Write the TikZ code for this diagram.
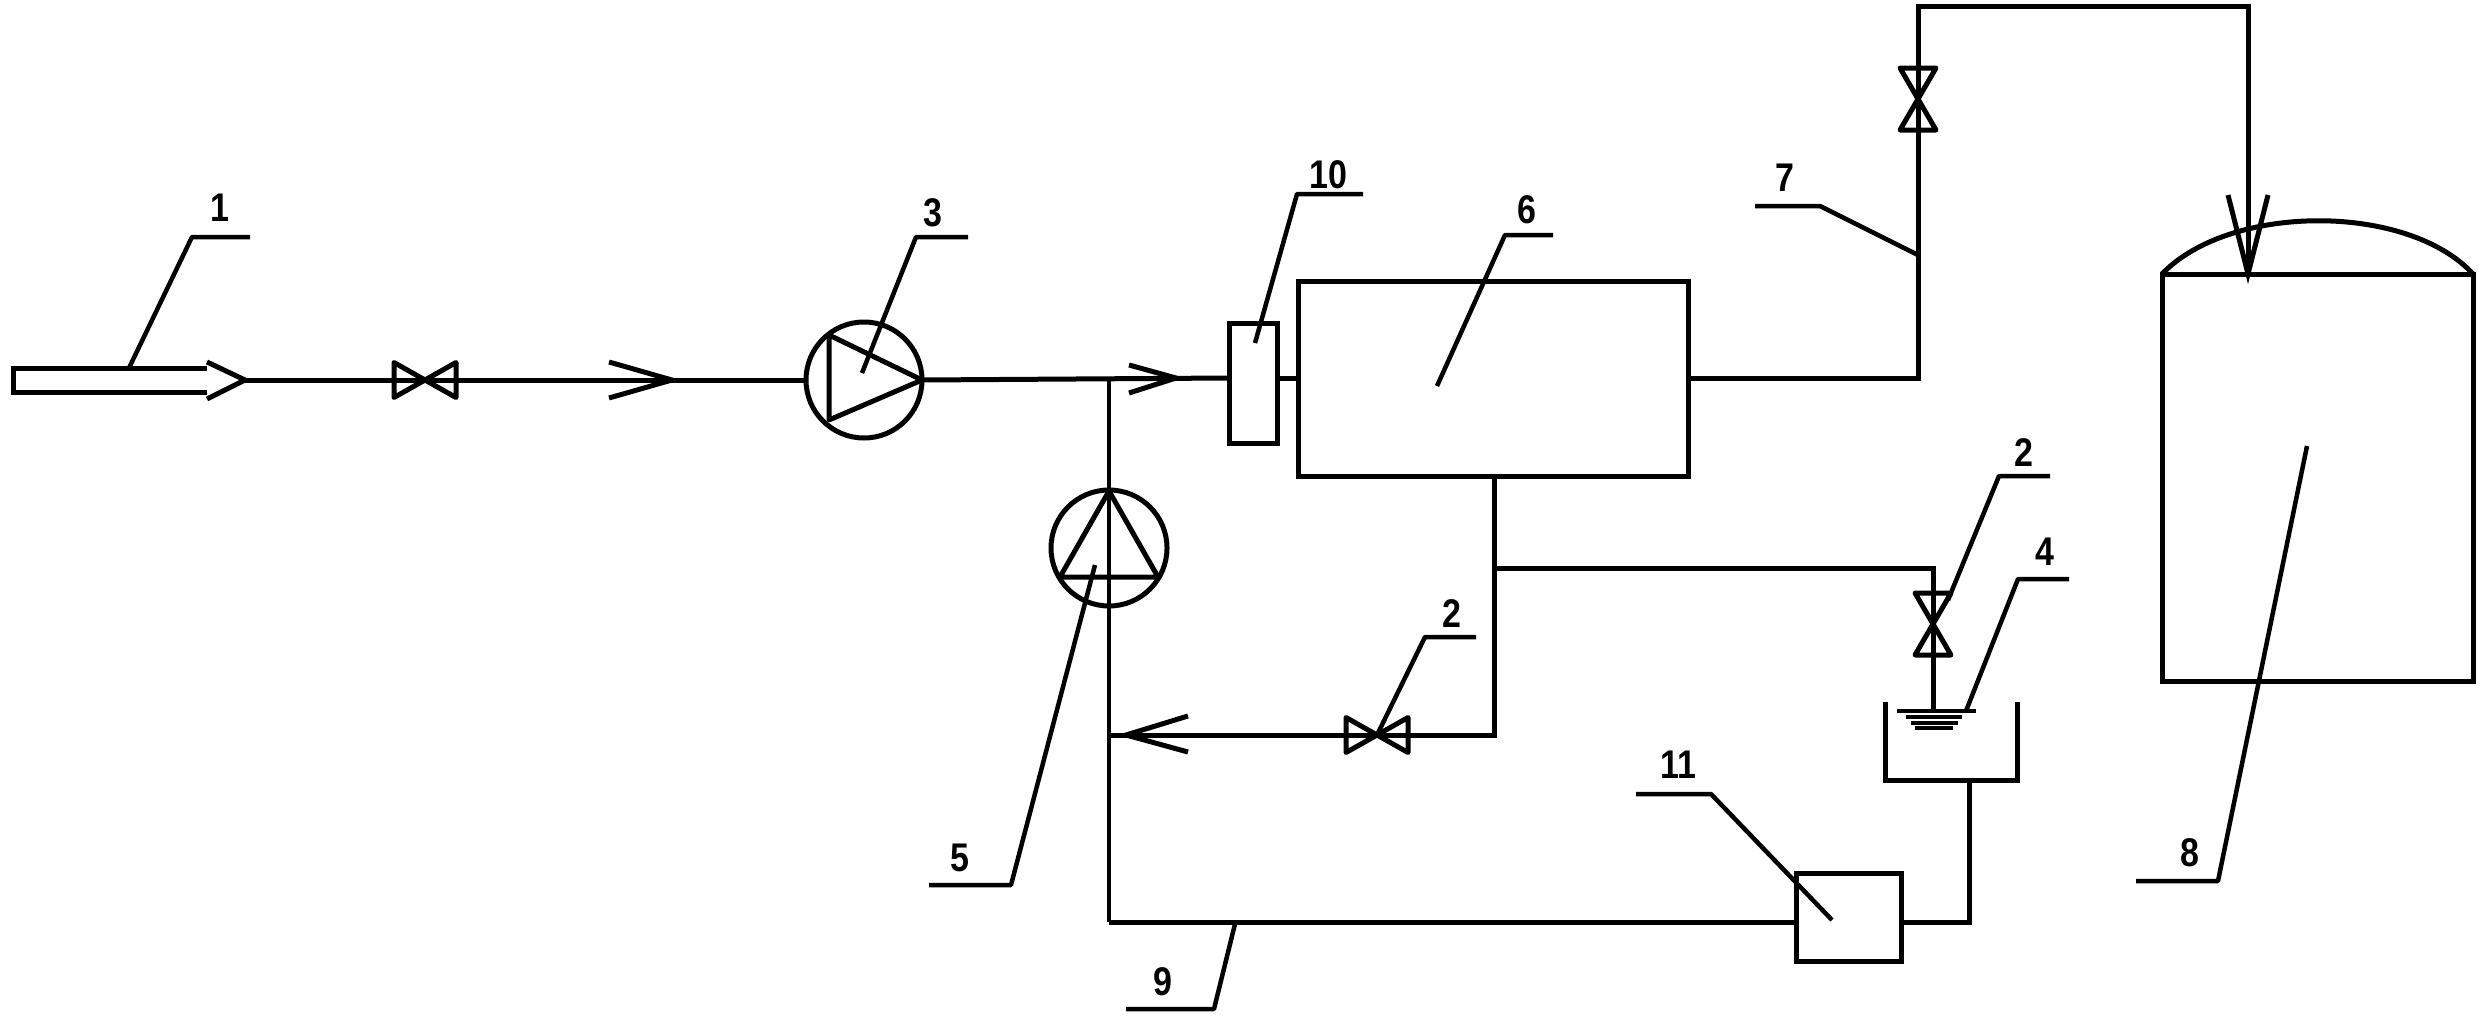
\documentclass[tikz,border=0pt]{standalone}
\usepackage{fontspec}
\setmainfont{Liberation Sans}
\begin{document}
\begin{tikzpicture}[x=1pt,y=-1pt,
  ln/.style={line width=5pt,black,line cap=butt,line join=miter},
  lead/.style={line width=4.5pt,black,line join=round},
  boxn/.style={draw,ln,rectangle,inner sep=0pt,outer sep=0pt},
  pump/.style={draw,ln,circle,inner sep=0pt,outer sep=0pt,minimum size=116pt},
  num/.style={font=\fontsize{40}{42}\selectfont\bfseries,inner sep=0pt,xscale=.85,black},
  hvalve/.pic={\draw[ln,line join=round] (-31,-17.5) -- (31,17.5) -- (31,-17.5) -- (-31,17.5) -- cycle;},
  vvalve/.pic={\draw[ln,line join=round] (-18,-31) -- (18,31) -- (-18,31) -- (18,-31) -- cycle;}]
\useasboundingbox[fill=white] (0,0) rectangle (2490,1036);

% equipment
\node[boxn,minimum width=48pt,minimum height=120pt] (b10) at (1253,383) {};
\node[boxn,minimum width=390pt,minimum height=195pt] (b6) at (1493,378.5) {};
\node[boxn,minimum width=105pt,minimum height=88pt] (b11) at (1848.5,917) {};
\node[pump] (p3) at (864,380) {};
\node[pump] (p5) at (1109,548) {};

% coordinates of the piping
\coordinate (inl) at (245,380);
\coordinate (j1) at (1109,378);
\coordinate (j2) at (1109,735);
\coordinate (j3) at (1109,922);
\coordinate (c1) at (1918,378);
\coordinate (c2) at (1918,6);
\coordinate (c3) at (2248,6);
\coordinate (tk) at (2248,274);
\coordinate (d1) at (1494,476);
\coordinate (d2) at (1494,568);
\coordinate (d3) at (1494,735);
\coordinate (d4) at (1933,568);
\coordinate (d5) at (1933,711);
\coordinate (e1) at (1969,780);
\coordinate (e2) at (1969,922);
\coordinate (v1) at (425,380);
\coordinate (v2) at (1377,735);
\coordinate (v3) at (1933,624);
\coordinate (v4) at (1918,99);

% feed arrow
\draw[ln] (207,368) -- (13,368) -- (13,392) -- (207,392);
\draw[ln] (207,362) -- (inl) -- (207,399);

% pipes
\draw[ln] (inl) -- (p3.west);
\draw[ln] (p3.east) -- (b10.west |- j1);
\draw[ln] (b10.east |- j1) -- (b6.west |- j1);
\draw[ln,line width=3.5pt] (j1) -- (j3);
\draw[ln] (j3) -- (b11.west |- j3);
\draw[ln] (b11.east |- e2) -- (e2) -- (e1);
\draw[ln] (b6.east |- c1) -- (c1) -- (c2) -- (c3) -- (tk);
\draw[ln] (d1) -- (d3) -- (j2);
\draw[ln] (d2) -- (d4) -- (d5);

% valves
\pic at (v1) {hvalve};
\pic at (v2) {hvalve};
\pic at (v3) {vvalve};
\pic at (v4) {vvalve};

% chevrons
\coordinate (t1) at (672,380);
\coordinate (t2) at (1176,378);
\coordinate (t3) at (1126,735);
\draw[ln] (t1) ++(-63,-18) -- (t1) -- ++(-63,18);
\draw[ln] (t2) ++(-47,-13) -- (t2) -- ++(-47,15);
\draw[ln] (t3) ++(62,-19) -- (t3) -- ++(62,17);
\draw[ln] (tk) ++(-20,-79) -- (tk) -- ++(20,-79);

% pump triangles
\draw[ln,line join=round] (829,335) -- (829,420) -- (922,380) -- cycle;
\draw[ln,line join=round] (1109,491) -- (1060,577) -- (1158,577) -- cycle;

% tank 8
\node[boxn,minimum width=311pt,minimum height=407pt] (tank) at (2317.5,477.5) {};
\draw[ln] (tank.north west) .. controls (2230,203) and (2408,203) .. (tank.north east);

% tray 4
\draw[ln] (1885,702) -- (1885,780) -- (2017,780) -- (2017,702);
\draw[ln,line width=3.5pt] (1897,711) -- (1976,711) (1906,717) -- (1962,717) (1911,723) -- (1958,723) (1915,728) -- (1953,728);

% labels
\coordinate (la1) at (129,368);
\draw[lead] (la1) -- (192,237) -- (250,237);
\node[num] (n1) at (220,208) {1};
\coordinate (la3) at (862,373);
\draw[lead] (la3) -- (916,237) -- (968,237);
\node[num] (n3) at (933,213) {3};
\coordinate (la10) at (1255,343);
\draw[lead] (la10) -- (1297,194) -- (1363,194);
\node[num] (n10) at (1328,175) {10};
\coordinate (la6) at (1437,386);
\draw[lead] (la6) -- (1505,235) -- (1553,235);
\node[num] (n6) at (1527,210) {6};
\coordinate (la7) at (1918,255);
\draw[lead] (la7) -- (1820,206) -- (1755,206);
\node[num] (n7) at (1785,178) {7};
\coordinate (la2a) at (1377,735);
\draw[lead] (la2a) -- (1425,637) -- (1476,637);
\node[num] (n2a) at (1452,614) {2};
\coordinate (la2b) at (1948,600);
\draw[lead] (la2b) -- (1999,476) -- (2050,476);
\node[num] (n2b) at (2024,453) {2};
\coordinate (la4) at (1966,711);
\draw[lead] (la4) -- (2018,579) -- (2069,579);
\node[num] (n4) at (2045,552) {4};
\coordinate (la5) at (1095,565);
\draw[lead] (la5) -- (1011,885) -- (929,885);
\node[num] (n5) at (960,858) {5};
\coordinate (la9) at (1235,924);
\draw[lead] (la9) -- (1214,1009) -- (1126,1009);
\node[num] (n9) at (1163,982) {9};
\coordinate (la11) at (1832,920);
\draw[lead] (la11) -- (1711,794) -- (1636,794);
\node[num] (n11) at (1678,765) {11};
\coordinate (la8) at (2307,446);
\draw[lead] (la8) -- (2218,881) -- (2136,881);
\node[num] (n8) at (2190,853) {8};
\end{tikzpicture}
\end{document}
